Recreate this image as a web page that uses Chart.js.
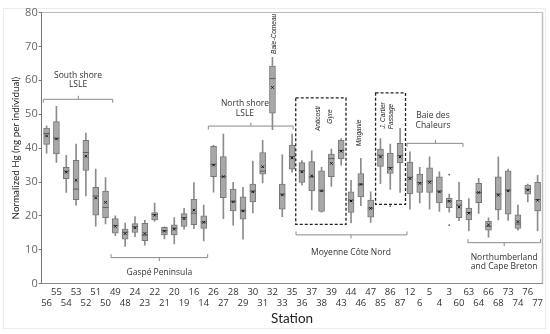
<!DOCTYPE html>
<html>
<head>
<meta charset="utf-8">
<script src="https://cdn.jsdelivr.net/npm/chart.js@4.4.0/dist/chart.umd.min.js"></script>
<style>
  html, body { margin: 0; padding: 0; background: #fff; }
  #wrap { position: relative; width: 550px; height: 334px; }
</style>
</head>
<body>
<div id="wrap"><canvas id="hgChart"></canvas></div>
<script>
// stations in plotting order (left to right)
const stations = ['56','55','54','53','52','51','50','49','48','24','23','22','21','20','19','16','14',
  '26','27','28','29','30','31','32','33','35','36','37','38','39','43','44','46','47',
  '85','86','87','12','6','5','4','3','60','63','64','66','68','73','74','76','77'];

const whiskerHigh = [46.6,52.3,37.9,41.2,44.4,33.8,31.3,20.0,17.9,19.8,18.7,23.8,16.8,19.5,22.2,29.8,23.2,
  40.8,44.1,29.9,28.4,36.2,42.3,66.8,38.0,44.1,36.3,39.2,34.3,39.7,42.8,30.5,37.0,27.1,
  42.8,41.2,45.8,38.9,34.3,37.4,33.0,26.4,29.9,25.1,31.1,19.4,37.4,33.8,23.2,29.4,32.0];
const q3 = [45.9,47.8,34.3,36.4,42.3,28.4,27.3,19.2,16.1,17.7,17.8,21.0,16.6,17.4,20.7,24.9,20.0,
  40.5,37.5,27.9,25.6,29.4,38.7,64.2,29.4,40.9,35.7,36.0,33.3,38.2,42.4,27.1,32.5,24.7,
  39.7,38.5,41.4,35.9,32.3,34.2,31.5,25.2,24.6,22.3,29.6,18.4,31.5,33.3,20.3,29.1,29.9];
const median = [44.3,42.9,33.2,27.9,38.7,25.9,22.5,17.2,15.2,16.8,14.3,20.4,15.6,16.4,19.5,20.8,18.2,
  35.2,31.6,24.2,21.5,27.3,33.2,60.5,26.4,37.5,33.3,31.5,27.4,36.9,39.3,24.6,29.3,22.3,
  37.9,34.3,37.8,31.4,29.8,30.3,27.3,24.4,23.2,21.0,26.9,16.9,26.5,27.6,17.6,27.9,24.8];
const mean = [43.6,42.7,32.9,30.5,37.6,25.3,24.0,16.9,14.8,16.5,14.8,20.2,15.5,16.1,19.2,21.7,18.1,
  35.0,31.6,24.2,21.5,27.1,34.5,57.9,26.2,37.1,33.0,31.8,27.4,35.5,39.1,24.4,29.3,22.2,
  37.4,34.0,37.4,31.0,29.6,29.9,27.1,24.3,22.6,20.8,26.9,17.4,26.1,27.4,18.3,27.6,24.6];
const q1 = [41.1,38.3,31.0,24.8,33.4,20.2,19.5,14.9,13.1,15.1,12.7,18.8,14.4,14.4,16.9,17.4,16.3,
  31.6,25.4,21.5,19.0,24.1,32.3,50.3,22.0,33.8,29.9,27.4,21.3,31.6,36.8,21.0,25.6,19.6,
  34.6,32.5,35.6,26.5,26.9,26.9,23.8,22.4,19.5,18.8,23.9,15.8,21.8,20.5,16.3,26.4,21.5];
const whiskerLow = [38.5,35.8,26.9,23.2,25.9,17.0,17.6,14.2,11.0,13.9,11.4,18.4,13.2,11.7,16.1,16.2,12.6,
  27.0,19.2,17.3,13.1,20.9,29.7,45.4,19.8,32.9,29.1,21.8,21.1,28.7,35.0,17.9,23.0,18.1,
  29.5,27.8,26.9,22.0,23.8,22.0,21.3,21.1,18.6,15.6,20.7,13.7,18.8,18.7,15.8,24.1,15.6];

const outlierStations = ['86','3','3'];
const outlierValues = [22.9, 32.2, 17.3];

// region brackets: positions in category index / axis value units
const brackets = [
  { lines: ['South shore', 'LSLE'], from: -0.34, to: 6.73, mid: 3.23, at: 54.4, ends: 'down', textX: 3.2, textY: [61.4, 58.6] },
  { lines: ['Gaspé Peninsula'], from: 6.56, to: 16.4, mid: 11.48, at: 7.7, ends: 'up', textX: 11.48, textY: [3.2] },
  { lines: ['North shore', 'LSLE'], from: 16.47, to: 25.1, mid: 20.8, at: 46.5, ends: 'down', textX: 20.2, textY: [53.0, 50.3] },
  { lines: ['Baie des', 'Chaleurs'], from: 36.7, to: 42.4, mid: 39.6, at: 41.4, ends: 'down', textX: 39.35, textY: [49.5, 46.7] },
  { lines: ['Moyenne Côte Nord'], from: 25.4, to: 36.7, mid: 31.0, at: 14.4, ends: 'up', textX: 31.0, textY: [9.1] },
  { lines: ['Northumberland', 'and Cape Breton'], from: 42.9, to: 50.3, mid: 46.6, at: 12.1, ends: 'up', textX: 46.6, textY: [7.7, 5.0] }
];
const dashedBoxes = [
  { from: 25.37, to: 30.49, low: 17.5, high: 54.8 },
  { from: 33.5, to: 36.55, low: 23.4, high: 56.3 }
];
const sideLabels = [
  { text: 'Baie-Comeau', x: 23.09, y: 73.7 },
  { text: 'Anticosti', x: 27.6, y: 48.7 },
  { text: 'Gyre', x: 28.86, y: 49.3 },
  { text: 'Minganie', x: 31.84, y: 44.5 },
  { text: 'J. Cartier', x: 34.2, y: 49.6 },
  { text: 'Passage', x: 35.0, y: 49.3 }
];

const framePlugin = {
  id: 'frame',
  beforeDraw(chart) {
    const { ctx, chartArea: a } = chart;
    ctx.save();
    ctx.strokeStyle = '#ececec';
    ctx.lineWidth = 1;
    ctx.strokeRect(3.5, 8.5, 542, 320);
    ctx.strokeStyle = '#bdbdbd';
    ctx.beginPath();
    ctx.moveTo(a.left, a.top);
    ctx.lineTo(a.right, a.top);
    ctx.stroke();
    ctx.lineWidth = 1.5;
    ctx.beginPath();
    ctx.moveTo(a.right, a.top);
    ctx.lineTo(a.right, a.bottom);
    ctx.stroke();
    ctx.restore();
  }
};

const annotationPlugin = {
  id: 'regions',
  afterDatasetsDraw(chart) {
    const { ctx } = chart;
    const x = chart.scales.x, y = chart.scales.y;
    ctx.save();
    ctx.lineWidth = 1;
    ctx.strokeStyle = '#8a8a8a';
    ctx.fillStyle = '#333';
    ctx.font = '8.5px "Open Sans"';
    ctx.textAlign = 'center';
    ctx.textBaseline = 'middle';
    brackets.forEach(b => {
      const x0 = x.getPixelForValue(b.from), x1 = x.getPixelForValue(b.to);
      const xm = x.getPixelForValue(b.mid), yy = y.getPixelForValue(b.at);
      const d = b.ends === 'down' ? 3.5 : -3.5;
      ctx.beginPath();
      ctx.moveTo(x0, yy + d);
      ctx.lineTo(x0, yy);
      ctx.lineTo(x1, yy);
      ctx.lineTo(x1, yy + d);
      ctx.moveTo(xm, yy);
      ctx.lineTo(xm, yy - d);
      ctx.stroke();
      b.lines.forEach((t, i) => {
        ctx.fillText(t, x.getPixelForValue(b.textX), y.getPixelForValue(b.textY[i]));
      });
    });

    ctx.strokeStyle = '#222';
    ctx.lineWidth = 1.3;
    ctx.setLineDash([3, 2]);
    dashedBoxes.forEach(r => {
      const x0 = x.getPixelForValue(r.from), x1 = x.getPixelForValue(r.to);
      const y0 = y.getPixelForValue(r.high), y1 = y.getPixelForValue(r.low);
      ctx.strokeRect(x0, y0, x1 - x0, y1 - y0);
    });
    ctx.setLineDash([]);

    // condensed italic labels, rotated
    ctx.font = 'italic 8px "Liberation Sans", "DejaVu Sans", sans-serif';
    ctx.fillStyle = '#222';
    sideLabels.forEach(l => {
      ctx.save();
      ctx.translate(x.getPixelForValue(l.x), y.getPixelForValue(l.y));
      ctx.rotate(-Math.PI / 2);
      ctx.scale(0.82, 1);
      ctx.fillText(l.text, 0, 0);
      ctx.restore();
    });
    ctx.restore();
  }
};

const ctx = document.getElementById('hgChart').getContext('2d');
const hgChart = new Chart(ctx, {
  type: 'bar',
  data: {
    labels: stations,
    datasets: [
      {
        type: 'line',
        data: outlierStations.map((s, i) => ({ x: s, y: outlierValues[i] })),
        showLine: false,
        pointStyle: 'circle',
        pointRadius: 0.9,
        pointBackgroundColor: '#555',
        pointBorderWidth: 0,
        order: 0
      },
      {
        type: 'line',
        data: mean,
        showLine: false,
        pointStyle: 'crossRot',
        pointRadius: 1.8,
        pointBorderColor: '#111',
        pointBorderWidth: 1,
        order: 0
      },
      {
        type: 'line',
        data: median,
        showLine: false,
        pointStyle: 'line',
        pointRadius: 3,
        pointBorderColor: '#5e5e5e',
        pointBorderWidth: 1,
        order: 1
      },
      {
        data: stations.map((s, i) => [q1[i], q3[i]]),
        backgroundColor: '#a8a8a8',
        borderColor: '#777',
        borderWidth: 1,
        borderSkipped: false,
        barThickness: 6,
        grouped: false,
        order: 2
      },
      {
        data: stations.map((s, i) => [whiskerLow[i], whiskerHigh[i]]),
        backgroundColor: '#8c8c8c',
        borderWidth: 0,
        barThickness: 1,
        grouped: false,
        order: 3
      }
    ]
  },
  options: {
    responsive: true,
    maintainAspectRatio: false,
    devicePixelRatio: 1,
    animation: false,
    events: [],
    layout: { padding: { top: 12.5, right: 7.5, bottom: 0, left: 0 } },
    scales: {
      x: {
        grid: { display: false, drawTicks: false },
        border: { display: true, color: '#8a8a8a', width: 1 },
        ticks: {
          autoSkip: false,
          maxRotation: 0,
          padding: 3.7,
          color: '#333',
          font: { family: 'Open Sans', size: 9.5, lineHeight: 1.12 },
          callback: (v, i) => i % 2 === 0 ? ['', stations[i]] : [stations[i], '']
        },
        title: {
          display: true,
          text: 'Station',
          color: '#222',
          font: { family: 'Lato', size: 13.5 },
          padding: { top: 0, bottom: 7 }
        },
        afterFit: s => { s.height = 50.3; }
      },
      y: {
        min: 0,
        max: 80,
        ticks: { stepSize: 10, color: '#666', padding: 1, font: { family: 'Open Sans', size: 11 } },
        grid: { drawOnChartArea: false, drawTicks: true, tickLength: 3, color: '#777' },
        border: { display: true, color: '#777', width: 1 },
        title: {
          display: true,
          text: 'Normalized Hg (ng per individual)',
          color: '#222',
          font: { family: 'Lato', size: 9.8 },
          padding: { top: 10.1, bottom: 0 }
        },
        afterFit: s => { s.width = 41.7; }
      }
    },
    plugins: {
      legend: { display: false },
      tooltip: { enabled: false }
    }
  },
  plugins: [framePlugin, annotationPlugin]
});
</script>
</body>
</html>
